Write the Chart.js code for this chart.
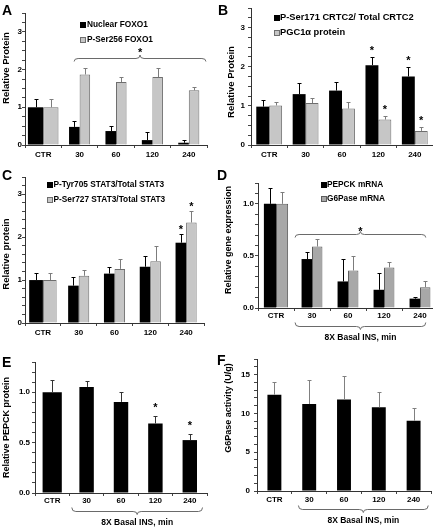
<!DOCTYPE html>
<html>
<head>
<meta charset="utf-8">
<script src="https://cdn.jsdelivr.net/npm/chart.js@4.4.1/dist/chart.umd.min.js"></script>
<style>
  html, body { margin: 0; padding: 0; background: #fff; overflow: hidden; }
  body { width: 433px; height: 528px; position: relative; }
  canvas { position: absolute; }
</style>
</head>
<body>
<canvas id="panelA"></canvas>
<canvas id="panelB"></canvas>
<canvas id="panelC"></canvas>
<canvas id="panelD"></canvas>
<canvas id="panelE"></canvas>
<canvas id="panelF"></canvas>
<script>
const categories = ["CTR", "30", "60", "120", "240"];

// A - FOXO1
const nuclearFoxo1 = [1.0, 0.48, 0.37, 0.13, 0.06];
const nuclearFoxo1Err = [0.23, 0.16, 0.13, 0.21, 0.07];
const pSer256Foxo1 = [1.0, 1.87, 1.67, 1.8, 1.45];
const pSer256Foxo1Err = [0.23, 0.17, 0.13, 0.23, 0.08];

// B - CRTC2 / PGC1a
const pSer171Crtc2 = [0.98, 1.3, 1.39, 2.04, 1.75];
const pSer171Crtc2Err = [0.17, 0.28, 0.23, 0.2, 0.23];
const pSer171Crtc2Stars = [false, false, false, true, true];
const pgc1aProtein = [1.01, 1.07, 0.93, 0.65, 0.36];
const pgc1aProteinErr = [0.09, 0.13, 0.16, 0.08, 0.11];
const pgc1aProteinStars = [false, false, false, true, true];

// C - STAT3
const pTyr705Stat3 = [1.0, 0.87, 1.15, 1.31, 1.87];
const pTyr705Stat3Err = [0.16, 0.21, 0.15, 0.26, 0.2];
const pTyr705Stat3Stars = [false, false, false, false, true];
const pSer727Stat3 = [1.0, 1.1, 1.26, 1.44, 2.34];
const pSer727Stat3Err = [0.16, 0.14, 0.24, 0.35, 0.26];
const pSer727Stat3Stars = [false, false, false, false, true];

// D - mRNA
const pepckMrna = [1.0, 0.47, 0.255, 0.175, 0.09];
const pepckMrnaErr = [0.15, 0.065, 0.215, 0.165, 0.02];
const g6paseMrna = [1.0, 0.59, 0.36, 0.39, 0.2];
const g6paseMrnaErr = [0.11, 0.07, 0.14, 0.05, 0.06];

// E - PEPCK protein
const pepckProtein = [1.0, 1.053, 0.904, 0.69, 0.525];
const pepckProteinErr = [0.12, 0.057, 0.096, 0.074, 0.06];
const pepckProteinStars = [false, false, false, true, true];

// F - G6Pase activity
const g6paseActivity = [12.4, 11.2, 11.77, 10.78, 9.05];
const g6paseActivityErr = [1.64, 3.06, 3.1, 1.94, 1.64];

const FONT = "'Liberation Sans', Arial, sans-serif";
const BLACK = { fill: "#000", line: "#000", width: 0, err: "#000" };
const GRAY = { fill: "#c6c6c6", line: "#6e6e6e", width: 1, err: "#7c7c7c" };
const GRAY_D = { fill: "#a8a8a8", line: "#5c5c5c", width: 1, err: "#7c7c7c" };

const panels = [
  {
    id: "panelA", letter: "A", letterPos: [2, 15],
    box: [0, 0, 216, 166], yAxisW: 25, padTop: 13, padRight: 9, xAxisH: 21, xPad: 1.5, yPad: 0,
    yMax: 3.5, yStep: 0.25, yMajor: 1, yDec: 0, groupPct: 0.58, widen: 1.45,
    title: "Relative Protein", titlePos: [6, 68], titleSize: 9.5,
    legend: { x: 80, rows: [25, 40], textX: 87, size: 8.3 },
    braceTop: { from: 0.85, to: 4.47, value: 2.32, ends: 3, tip: 3.5, star: 8 },
    series: [
      { label: "Nuclear FOXO1", data: nuclearFoxo1, errors: nuclearFoxo1Err, style: BLACK },
      { label: "P-Ser256 FOXO1", data: pSer256Foxo1, errors: pSer256Foxo1Err, style: GRAY },
    ],
  },
  {
    id: "panelB", letter: "B", letterPos: [218, 15],
    box: [216, 0, 217, 166], yAxisW: 35, padTop: 8, padRight: 0, xAxisH: 21, xPad: 1.5, yPad: 3,
    yMax: 3.5, yStep: 0.25, yMajor: 1, yDec: 0, groupPct: 0.71, widen: 1,
    title: "Relative Protein", titlePos: [231.5, 82], titleSize: 9.5,
    legend: { x: 274, rows: [17.5, 32.5], textX: 280, size: 9.3 },
    starGap: 9,
    series: [
      { label: "P-Ser171 CRTC2/ Total CRTC2", data: pSer171Crtc2, errors: pSer171Crtc2Err, stars: pSer171Crtc2Stars, style: BLACK },
      { label: "PGC1\u03b1 protein", data: pgc1aProtein, errors: pgc1aProteinErr, stars: pgc1aProteinStars, style: GRAY },
    ],
  },
  {
    id: "panelC", letter: "C", letterPos: [2, 180],
    box: [0, 166, 216, 176], yAxisW: 25, padTop: 11, padRight: 12, xAxisH: 19, xPad: 1.5, yPad: 0,
    yMax: 3.4, yStep: 0.2, yMajor: 1, yDec: 0, groupPct: 0.59, widen: 1.3,
    title: "Relative protein", titlePos: [6.5, 254], titleSize: 9.5,
    legend: { x: 47, rows: [185, 200], textX: 53.5, size: 8.3 },
    starGap: 7,
    series: [
      { label: "P-Tyr705 STAT3/Total STAT3", data: pTyr705Stat3, errors: pTyr705Stat3Err, stars: pTyr705Stat3Stars, style: BLACK },
      { label: "P-Ser727 STAT3/Total STAT3", data: pSer727Stat3, errors: pSer727Stat3Err, stars: pSer727Stat3Stars, style: GRAY },
    ],
  },
  {
    id: "panelD", letter: "D", letterPos: [217, 180],
    box: [216, 166, 222, 178], yAxisW: 42, padTop: 17, padRight: 0, xAxisH: 36, xPad: 0, yPad: 1,
    yMax: 1.2, yStep: 0.1, yMajor: 0.5, yDec: 1, groupPct: 0.58, widen: 1.16,
    title: "Relative gene expression", titlePos: [228.5, 240], titleSize: 9,
    legend: { x: 321, rows: [185, 198.5], textX: 327, size: 8.3 },
    braceTop: { from: 0.53, to: 4.16, value: 0.71, ends: 3, tip: 3, star: 5 },
    braceBottom: { from: 0.53, to: 4.16, text: "8X Basal INS, min" },
    series: [
      { label: "PEPCK mRNA", data: pepckMrna, errors: pepckMrnaErr, style: BLACK },
      { label: "G6Pase mRNA", data: g6paseMrna, errors: g6paseMrnaErr, style: GRAY_D },
    ],
  },
  {
    id: "panelE", letter: "E", letterPos: [2, 367],
    box: [0, 342, 216, 186], yAxisW: 35, padTop: 20, padRight: 9, xAxisH: 35, xPad: 0, yPad: 2,
    yMax: 1.3, yStep: 0.1, yMajor: 0.5, yDec: 1, groupPct: 0.42, widen: 1.33,
    title: "Relative PEPCK protein", titlePos: [6.7, 427.5], titleSize: 9,
    starGap: 11,
    braceBottom: { from: 0.57, to: 4.37, text: "8X Basal INS, min" },
    series: [
      { label: "PEPCK protein", data: pepckProtein, errors: pepckProteinErr, stars: pepckProteinStars, style: { fill: "#000", line: "#000", width: 0, err: "#333" } },
    ],
  },
  {
    id: "panelF", letter: "F", letterPos: [217, 365],
    box: [216, 342, 217, 186], yAxisW: 41, padTop: 17, padRight: 2, xAxisH: 37, xPad: 1, yPad: 4,
    yMax: 17, yStep: 1, yMajor: 5, yDec: 0, groupPct: 0.4, widen: 1,
    title: "G6Pase activity (U/g)", titlePos: [228.5, 408], titleSize: 9,
    braceBottom: { from: 0.69, to: 4.42, text: "8X Basal INS, min" },
    series: [
      { label: "G6Pase activity", data: g6paseActivity, errors: g6paseActivityErr, style: { fill: "#000", line: "#000", width: 0, err: "#808080" } },
    ],
  },
];

function drawBrace(ctx, x0, x1, yLine, dir, ends, tip) {
  const xm = (x0 + x1) / 2, r = 4;
  ctx.beginPath();
  ctx.moveTo(x0, yLine + dir * ends);
  ctx.quadraticCurveTo(x0, yLine, x0 + r, yLine);
  ctx.lineTo(xm - r, yLine);
  ctx.quadraticCurveTo(xm, yLine, xm, yLine - dir * tip);
  ctx.quadraticCurveTo(xm, yLine, xm + r, yLine);
  ctx.lineTo(x1 - r, yLine);
  ctx.quadraticCurveTo(x1, yLine, x1, yLine + dir * ends);
  ctx.stroke();
}

function drawStar(ctx, x, y) {
  ctx.font = "bold 11px " + FONT;
  ctx.textAlign = "center";
  ctx.textBaseline = "middle";
  ctx.fillStyle = "#000";
  ctx.fillText("*", x, y + 2.5);
}

function makeOverlay(p) {
  const ox = p.box[0], oy = p.box[1];
  return {
    id: "overlay" + p.letter,
    afterDatasetsUpdate(chart) {
      // control bars are drawn a bit wider in the original
      if (!p.widen || p.widen === 1) return;
      const c = chart.scales.x.getPixelForValue(0);
      chart.data.datasets.forEach((ds, di) => {
        const bar = chart.getDatasetMeta(di).data[0];
        bar.x = c + (bar.x - c) * p.widen;
        bar.width = bar.width * p.widen;
      });
    },
    afterDatasetsDraw(chart) {
      const ctx = chart.ctx, y = chart.scales.y;
      ctx.save();
      ctx.lineWidth = 1;
      chart.data.datasets.forEach((ds, di) => {
        const meta = chart.getDatasetMeta(di);
        meta.data.forEach((bar, i) => {
          const top = Math.round(y.getPixelForValue(ds.data[i] + ds.errors[i])) + 0.5;
          const x = Math.round(bar.x) + 0.5;
          ctx.strokeStyle = ds.errColor;
          ctx.beginPath();
          ctx.moveTo(x, bar.y);
          ctx.lineTo(x, top);
          ctx.moveTo(x - 2, top);
          ctx.lineTo(x + 2, top);
          ctx.stroke();
          if (ds.stars && ds.stars[i]) drawStar(ctx, bar.x, top - p.starGap);
        });
      });
      ctx.restore();
    },
    afterDraw(chart) {
      const ctx = chart.ctx, area = chart.chartArea, xs = chart.scales.x;
      ctx.save();
      ctx.fillStyle = "#000";

      // panel letter
      ctx.font = "bold 14px " + FONT;
      ctx.textAlign = "left";
      ctx.textBaseline = "alphabetic";
      ctx.fillText(p.letter, p.letterPos[0] - ox, p.letterPos[1] - oy);

      // y axis title
      ctx.save();
      ctx.translate(p.titlePos[0] - ox, p.titlePos[1] - oy);
      ctx.rotate(-Math.PI / 2);
      ctx.font = "bold " + p.titleSize + "px " + FONT;
      ctx.textAlign = "center";
      ctx.textBaseline = "middle";
      ctx.fillText(p.title, 0, 0);
      ctx.restore();

      // legend
      if (p.legend) {
        const lg = p.legend;
        chart.data.datasets.forEach((ds, di) => {
          const ry = lg.rows[di] - oy;
          const sx = lg.x - ox;
          ctx.fillStyle = ds.backgroundColor;
          ctx.fillRect(sx, Math.round(ry - 3), 6, 6);
          if (ds.borderWidth) {
            ctx.strokeStyle = ds.borderColor;
            ctx.lineWidth = 1;
            ctx.strokeRect(sx + 0.5, Math.round(ry - 3) + 0.5, 5, 5);
          }
          ctx.fillStyle = "#000";
          ctx.font = "bold " + lg.size + "px " + FONT;
          ctx.textAlign = "left";
          ctx.textBaseline = "middle";
          ctx.fillText(ds.label, lg.textX - ox, ry);
        });
      }

      ctx.strokeStyle = "#6a6a6a";
      ctx.lineWidth = 1;
      if (p.braceTop) {
        const b = p.braceTop;
        const x0 = xs.getPixelForValue(b.from), x1 = xs.getPixelForValue(b.to);
        const yl = Math.round(chart.scales.y.getPixelForValue(b.value)) + 0.5;
        drawBrace(ctx, x0, x1, yl, 1, b.ends, b.tip);
        drawStar(ctx, (x0 + x1) / 2, yl - b.star);
      }
      if (p.braceBottom) {
        const b = p.braceBottom;
        const x0 = xs.getPixelForValue(b.from), x1 = xs.getPixelForValue(b.to);
        const yl = Math.round(area.bottom + 18) + 0.5;
        drawBrace(ctx, x0, x1, yl, -1, 4, 3);
        ctx.fillStyle = "#000";
        ctx.font = "bold 8.5px " + FONT;
        ctx.textAlign = "center";
        ctx.textBaseline = "middle";
        ctx.fillText(b.text, (x0 + x1) / 2, area.bottom + 30);
      }
      ctx.restore();
    },
  };
}

function buildPanel(p) {
  const canvas = document.getElementById(p.id);
  canvas.width = p.box[2];
  canvas.height = p.box[3];
  canvas.style.left = p.box[0] + "px";
  canvas.style.top = p.box[1] + "px";
  const tickFont = { family: FONT, size: 8, weight: "bold" };

  new Chart(canvas.getContext("2d"), {
    type: "bar",
    data: {
      labels: categories,
      datasets: p.series.map((s) => ({
        label: s.label,
        data: s.data,
        errors: s.errors,
        stars: s.stars || [],
        errColor: s.style.err,
        backgroundColor: s.style.fill,
        borderColor: s.style.line,
        borderWidth: s.style.width,
        categoryPercentage: p.groupPct,
        barPercentage: 1,
      })),
    },
    options: {
      responsive: false,
      animation: false,
      devicePixelRatio: 1,
      layout: { padding: { top: p.padTop, right: p.padRight, left: 0, bottom: 0 } },
      plugins: { legend: { display: false }, tooltip: { enabled: false } },
      scales: {
        x: {
          ticks: { font: tickFont, color: "#000", padding: p.xPad, autoSkip: false, maxRotation: 0 },
          grid: { drawOnChartArea: false, drawTicks: true, tickLength: 3, offset: true, color: "#444" },
          border: { color: "#333" },
          afterFit: (s) => { s.height = p.xAxisH; },
        },
        y: {
          min: 0,
          max: p.yMax,
          ticks: {
            stepSize: p.yStep,
            maxTicksLimit: 100,
            autoSkip: false,
            font: tickFont,
            color: "#000",
            padding: p.yPad,
            callback: (v) => {
              const k = v / p.yMajor;
              return Math.abs(k - Math.round(k)) < 1e-6 ? Number(v).toFixed(p.yDec) : "";
            },
          },
          grid: { drawOnChartArea: false, drawTicks: true, tickLength: 3, color: "#444" },
          border: { color: "#333" },
          afterFit: (s) => { s.width = p.yAxisW; },
        },
      },
    },
    plugins: [makeOverlay(p)],
  });
}

panels.forEach(buildPanel);
</script>
</body>
</html>
